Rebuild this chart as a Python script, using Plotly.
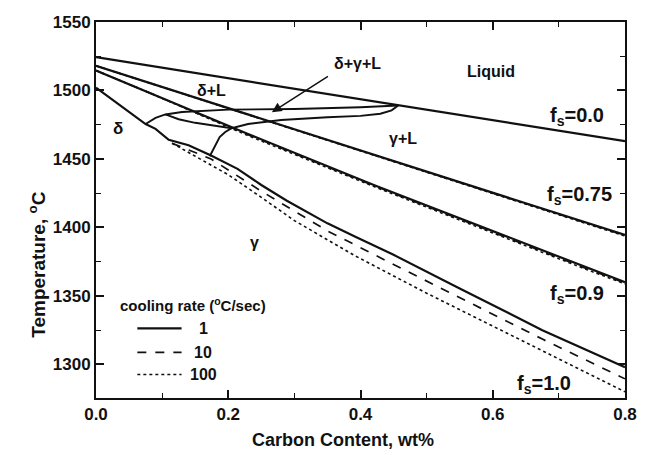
import plotly.graph_objects as go

# Carbon content (wt%) / temperature (°C) traces for the solid-fraction lines
fs00_x = [0.0, 0.8]
fs00_t = [1524.3, 1463.0]

fs075_x = [0.0, 0.8]
fs075_t = [1518.0, 1394.5]
fs075_off = [0.0, -0.8]

fs09_x = [0.0, 0.075, 0.229, 0.422, 0.739, 0.8]
fs09_t = [1514.6, 1499.5, 1468.4, 1430.7, 1371.0, 1360.0]

fs10_solid_x = [0.0, 0.04, 0.075, 0.09, 0.11, 0.14, 0.174, 0.214, 0.25, 0.288,
                0.35, 0.393, 0.45, 0.55, 0.675, 0.8]
fs10_solid_t = [1502.0, 1488.0, 1475.5, 1472.0, 1464.0, 1460.0, 1452.5, 1442.8,
                1431.0, 1419.7, 1403.0, 1393.0, 1380.0, 1355.5, 1325.0, 1298.0]

fs10_dash_x = [0.115, 0.174, 0.25, 0.35, 0.45, 0.55, 0.675, 0.8]
fs10_dash_t = [1461.5, 1450.0, 1426.5, 1397.5, 1373.0, 1349.0, 1318.5, 1289.5]

fs10_dot_x = [0.115, 0.15, 0.2, 0.25, 0.3, 0.393, 0.5, 0.6, 0.675, 0.8]
fs10_dot_t = [1461.5, 1452.0, 1438.5, 1422.0, 1405.0, 1379.0, 1352.0, 1328.0, 1310.0, 1280.0]

# Boundaries of the three-phase (delta + gamma + L) field
upper_x = [0.075, 0.09, 0.105, 0.13, 0.2, 0.3, 0.4, 0.457]
upper_t = [1475.5, 1480.0, 1482.5, 1484.3, 1486.0, 1486.5, 1487.8, 1489.0]

lower_x = [0.105, 0.125, 0.15, 0.19, 0.205, 0.23, 0.28, 0.35, 0.40, 0.43, 0.447, 0.457]
lower_t = [1482.5, 1479.0, 1476.4, 1473.5, 1472.5, 1475.5, 1478.5, 1480.5, 1481.5,
           1483.0, 1485.5, 1489.0]

branch_x = [0.172, 0.18, 0.187, 0.195, 0.205]
branch_t = [1452.0, 1459.0, 1466.0, 1469.5, 1472.5]

# Region and curve labels: (text, x, T, size)
region_labels = [
    ("Liquid", 0.597, 1514.0, 16),
    ("δ+γ+L", 0.395, 1519.7, 16),
    ("δ+L", 0.174, 1500.0, 16),
    ("γ+L", 0.464, 1465.0, 16),
    ("δ", 0.033, 1472.0, 17),
    ("γ", 0.239, 1389.0, 16),
]
fs_labels = [
    ("f<sub>s</sub>=0.0", 0.727, 1481.0),
    ("f<sub>s</sub>=0.75", 0.731, 1423.0),
    ("f<sub>s</sub>=0.9", 0.727, 1351.0),
    ("f<sub>s</sub>=1.0", 0.678, 1285.5),
]

legend_rates = ["1", "10", "100"]
legend_dashes = ["solid", "dash", "dot"]

x_ticks = [0.0, 0.2, 0.4, 0.6, 0.8]
y_ticks = [1300, 1350, 1400, 1450, 1500, 1550]

FONT = "Liberation Sans, Arial, Helvetica, sans-serif"
BLACK = "#111111"

fig = go.Figure()


def add_line(x, t, dash="solid", width=2.2):
    fig.add_trace(go.Scatter(x=x, y=t, mode="lines", showlegend=False,
                             hoverinfo="skip",
                             line=dict(color=BLACK, width=width, dash=dash)))


# fs = 0.0 (liquidus)
add_line(fs00_x, fs00_t)
# fs = 0.75: three cooling rates nearly coincide
add_line(fs075_x, [t + o for t, o in zip(fs075_t, fs075_off)], "dot", 1.5)
add_line(fs075_x, [t + o * 0.5 for t, o in zip(fs075_t, fs075_off)], "dash", 1.5)
add_line(fs075_x, fs075_t)
# fs = 0.9
add_line(fs09_x, [t - 1.2 if x > 0.15 else t for x, t in zip(fs09_x, fs09_t)], "dot", 1.5)
add_line(fs09_x, [t - 0.6 if x > 0.15 else t for x, t in zip(fs09_x, fs09_t)], "dash", 1.5)
add_line(fs09_x, fs09_t)
# fs = 1.0 (solidus) for 1, 10 and 100 °C/sec
add_line(fs10_dot_x, fs10_dot_t, "dot", 1.6)
add_line(fs10_dash_x, fs10_dash_t, "dash", 1.7)
add_line(fs10_solid_x, fs10_solid_t)
# three-phase field
add_line(upper_x, upper_t, width=1.9)
add_line(lower_x, lower_t, width=1.9)
add_line(branch_x, branch_t, width=1.9)

annotations = []
for text, x, t, size in region_labels:
    annotations.append(dict(x=x, y=t, xref="x", yref="y", text=text, showarrow=False,
                            font=dict(family=FONT, size=size, color=BLACK, weight="bold")))
for text, x, t in fs_labels:
    annotations.append(dict(x=x, y=t, xref="x", yref="y", text=text, showarrow=False,
                            font=dict(family=FONT, size=20, color=BLACK, weight="bold")))

# arrow pointing into the three-phase field
annotations.append(dict(x=0.266, y=1484.2, ax=0.353, ay=1511.0, xref="x", yref="y",
                        axref="x", ayref="y", text="", showarrow=True, arrowhead=2,
                        arrowsize=1.3, arrowwidth=1.5, arrowcolor=BLACK))

# legend block
annotations.append(dict(x=0.1468, y=1343.5, xref="x", yref="y",
                        text="cooling rate (<sup>o</sup>C/sec)", showarrow=False,
                        font=dict(family=FONT, size=15, color=BLACK, weight="bold")))
legend_t = [1326.3, 1308.8, 1292.7]
shapes = []
for label, dash, t in zip(legend_rates, legend_dashes, legend_t):
    shapes.append(dict(type="line", xref="x", yref="y", x0=0.0625, x1=0.1294, y0=t, y1=t,
                       line=dict(color=BLACK, width=2.2 if dash == "solid" else 1.6, dash=dash)))
    annotations.append(dict(x=0.162, y=t, xref="x", yref="y", text=label, showarrow=False,
                            font=dict(family=FONT, size=16, color=BLACK, weight="bold")))

# axis titles
annotations.append(dict(x=0.4675, y=-0.112, xref="paper", yref="paper",
                        xanchor="center", yanchor="middle",
                        text="Carbon Content, wt%", showarrow=False,
                        font=dict(family=FONT, size=18, color=BLACK, weight="bold")))
annotations.append(dict(x=-0.113, y=0.355, xref="paper", yref="paper", textangle=-90,
                        xanchor="center", yanchor="middle",
                        text="Temperature, <sup>o</sup>C", showarrow=False,
                        font=dict(family=FONT, size=19, color=BLACK, weight="bold")))

axis_common = dict(
    showline=True, linecolor=BLACK, linewidth=2, mirror="allticks",
    ticks="inside", ticklen=8, tickwidth=1.6, tickcolor=BLACK,
    showgrid=False, zeroline=False,
    tickfont=dict(family=FONT, size=17, color=BLACK, weight="bold"),
)

fig.update_layout(
    width=649, height=455,
    margin=dict(l=96, r=15, t=22, b=57),
    paper_bgcolor="white", plot_bgcolor="white",
    showlegend=False,
    xaxis=dict(range=[0.0, 0.8], tickvals=x_ticks, ticktext=[f"{v:.1f}" for v in x_ticks],
               minor=dict(ticks="inside", dtick=0.1, ticklen=5, tickwidth=1.4, tickcolor=BLACK),
               **axis_common),
    yaxis=dict(range=[1275.5, 1550], tickvals=y_ticks,
               minor=dict(ticks="inside", dtick=25, tick0=1275, ticklen=5, tickwidth=1.4,
                          tickcolor=BLACK),
               **axis_common),
    annotations=annotations,
    shapes=shapes,
)

fig.write_html("out.html")
